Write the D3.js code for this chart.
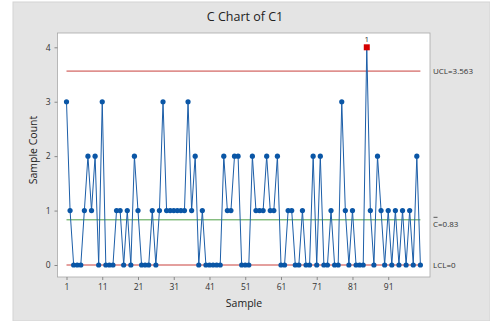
<!DOCTYPE html>
<html>
<head>
<meta charset="utf-8">
<script src="https://cdn.jsdelivr.net/npm/d3@7"></script>
<style>
  body { margin: 0; background: #fff; }
  svg { display: block; font-family: "Open Sans", "Noto Sans", sans-serif; }
</style>
</head>
<body>
<div id="chart"></div>
<script>
// counts per sample (1..100)
var counts = [3,1,0,0,0,1,2,1,2,0, 3,0,0,0,1,1,0,1,0,2,
              1,0,0,0,1,0,1,3,1,1, 1,1,1,1,3,1,2,0,1,0,
              0,0,0,0,2,1,1,2,2,0, 0,0,2,1,1,1,2,1,1,2,
              0,0,1,1,0,0,1,0,0,2, 0,2,0,0,1,0,0,3,1,0,
              1,0,0,0,4,1,0,2,1,0, 1,0,1,0,1,0,1,0,2,0];
var xTicks = [1, 11, 21, 31, 41, 51, 61, 71, 81, 91];
var yTicks = [0, 1, 2, 3, 4];
var cbar = 0.83, ucl = 3.563, lcl = 0;
var flagged = [85];

var W = 490, H = 321;
var plot = { left: 57.5, top: 33, right: 430, bottom: 277 };

var svg = d3.select("#chart").append("svg")
  .attr("width", W).attr("height", H);

svg.append("rect").attr("x", 13).attr("y", 2).attr("width", W - 13).attr("height", H - 2)
  .attr("fill", "#e4e4e4").attr("stroke", "#d4d4d4");

svg.append("rect").attr("x", plot.left).attr("y", plot.top)
  .attr("width", plot.right - plot.left).attr("height", plot.bottom - plot.top)
  .attr("fill", "#fff").attr("stroke", "#a8a8a8").attr("stroke-width", 0.8);

var data = counts.map(function (c, i) { return { s: i + 1, c: c }; });

var x = d3.scaleLinear().domain([1, 100]).range([66.5, 420.4]);
var y = d3.scaleLinear().domain([0, 4]).range([265, 47.3]);

// axes
var xAxis = svg.append("g")
  .attr("transform", "translate(0," + plot.bottom + ")")
  .call(d3.axisBottom(x).tickValues(xTicks).tickFormat(d3.format("d")).tickSize(3).tickPadding(4));
var yAxis = svg.append("g")
  .attr("transform", "translate(" + plot.left + ",0)")
  .call(d3.axisLeft(y).tickValues(yTicks).tickFormat(d3.format("d")).tickSize(3).tickPadding(4));
[xAxis, yAxis].forEach(function (a) {
  a.select(".domain").remove();
  a.selectAll(".tick line").attr("stroke", "#888");
  a.selectAll(".tick text").attr("fill", "#333").style("font-size", "8.5px")
    .style("font-family", "'Open Sans', sans-serif");
});

// control lines
svg.append("line").attr("x1", x(1)).attr("x2", x(100)).attr("y1", y(ucl)).attr("y2", y(ucl))
  .attr("stroke", "#c9403d").attr("stroke-width", 1);
svg.append("line").attr("x1", x(1)).attr("x2", x(100)).attr("y1", y(lcl)).attr("y2", y(lcl))
  .attr("stroke", "#c9403d").attr("stroke-width", 1);
svg.append("line").attr("x1", x(1)).attr("x2", x(100)).attr("y1", y(cbar)).attr("y2", y(cbar))
  .attr("stroke", "#4f9f46").attr("stroke-width", 1);

// series
var line = d3.line().x(function (d) { return x(d.s); }).y(function (d) { return y(d.c); });
svg.append("path").datum(data).attr("d", line)
  .attr("fill", "none").attr("stroke", "#1c5ea8").attr("stroke-width", 1);

svg.append("g").selectAll("circle")
  .data(data.filter(function (d) { return flagged.indexOf(d.s) < 0; }))
  .enter().append("circle")
  .attr("cx", function (d) { return x(d.s); })
  .attr("cy", function (d) { return y(d.c); })
  .attr("r", 2.6)
  .attr("fill", "#0a56a6");

var bad = data.filter(function (d) { return flagged.indexOf(d.s) >= 0; });
svg.append("g").selectAll("rect").data(bad).enter().append("rect")
  .attr("x", function (d) { return x(d.s) - 3; })
  .attr("y", function (d) { return y(d.c) - 3; })
  .attr("width", 6).attr("height", 6)
  .attr("fill", "#d40000");
svg.append("g").selectAll("text").data(bad).enter().append("text")
  .attr("x", function (d) { return x(d.s); })
  .attr("y", function (d) { return y(d.c) - 5; })
  .attr("text-anchor", "middle").style("font-size", "8px").attr("fill", "#333")
  .text("1");

// right labels
var lab = svg.append("g").style("font-size", "8px").attr("fill", "#333");
lab.append("text").attr("x", 433).attr("y", y(ucl) + 3).text("UCL=3.563");
lab.append("text").attr("x", 433).attr("y", y(cbar) + 7).text("C=0.83");
lab.append("line").attr("x1", 433.5).attr("x2", 437.5).attr("y1", y(cbar) - 2.5).attr("y2", y(cbar) - 2.5)
  .attr("stroke", "#333").attr("stroke-width", 0.8);
lab.append("text").attr("x", 433).attr("y", y(lcl) + 3).text("LCL=0");

// titles
svg.append("text").attr("x", 245).attr("y", 21).attr("text-anchor", "middle")
  .style("font-size", "12.5px").attr("fill", "#222").text("C Chart of C1");
svg.append("text").attr("x", 244).attr("y", 307).attr("text-anchor", "middle")
  .style("font-size", "10.5px").attr("fill", "#222").text("Sample");
svg.append("text").attr("transform", "translate(37,150) rotate(-90)").attr("text-anchor", "middle")
  .style("font-size", "10.5px").attr("fill", "#222").text("Sample Count");
</script>
</body>
</html>
